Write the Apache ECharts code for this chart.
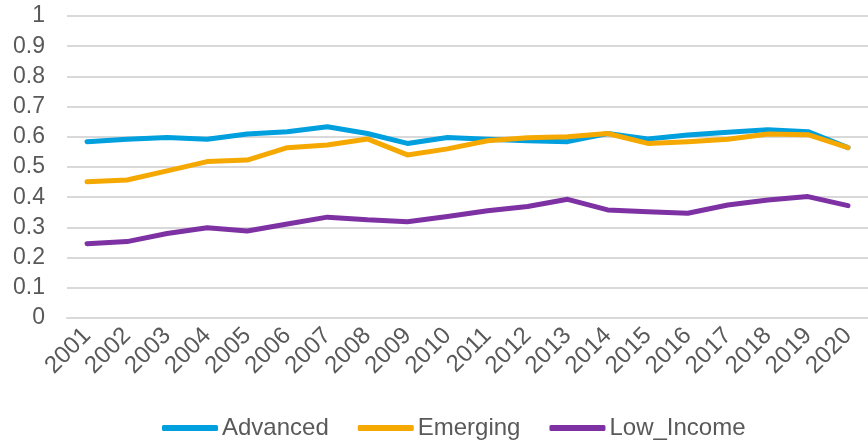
<!DOCTYPE html>
<html>
<head>
<meta charset="utf-8">
<script src="https://cdn.jsdelivr.net/npm/echarts@6/dist/echarts.min.js"></script>
<style>
html,body{margin:0;padding:0;background:#fff;}
#chart{width:868px;height:443px;}
</style>
</head>
<body>
<div id="chart"></div>
<script>
const years = ['2001','2002','2003','2004','2005','2006','2007','2008','2009','2010','2011','2012','2013','2014','2015','2016','2017','2018','2019','2020'];
const advanced = [0.584,0.592,0.598,0.592,0.609,0.617,0.633,0.611,0.578,0.598,0.592,0.587,0.584,0.611,0.593,0.606,0.615,0.623,0.617,0.564];
const emerging = [0.451,0.457,0.487,0.518,0.523,0.564,0.573,0.593,0.540,0.560,0.587,0.597,0.600,0.611,0.578,0.584,0.592,0.609,0.607,0.564];
const lowIncome = [0.246,0.253,0.280,0.299,0.288,0.311,0.334,0.325,0.319,0.336,0.355,0.369,0.393,0.358,0.352,0.347,0.374,0.391,0.402,0.372];
const yTicks = ['0','0.1','0.2','0.3','0.4','0.5','0.6','0.7','0.8','0.9','1'];

const FONT = '"Liberation Sans", Arial, sans-serif';
const colors = ['#009FDE', '#F5A900', '#7E31A3'];
const chart = echarts.init(document.getElementById('chart'), null, {renderer:'canvas'});
function mk(name, data, color){
  return {name, type:'line', data, symbol:'none', smooth:false,
    lineStyle:{width:5, color, cap:'round', join:'round'}, itemStyle:{color}};
}
chart.setOption({
  animation:false,
  backgroundColor:'#fff',
  textStyle:{fontFamily:FONT},
  grid:{left:67, top:16, height:302, width:812, containLabel:false},
  xAxis:{type:'category', data:years, boundaryGap:true,
    axisLine:{show:true, lineStyle:{color:'#D9D9D9', width:2}},
    axisTick:{show:false},
    axisLabel:{rotate:45, margin:14, fontSize:24, color:'#595959', fontFamily:FONT, interval:0}},
  yAxis:{type:'value', min:0, max:1, interval:0.1,
    axisLine:{show:false}, axisTick:{show:false},
    splitLine:{lineStyle:{color:'#D9D9D9', width:2}},
    axisLabel:{fontSize:23, color:'#595959', fontFamily:FONT, margin:22,
      formatter:v=>yTicks[Math.round(v*10)]}},
  legend:{left:162, top:416, padding:0, itemWidth:56, itemHeight:6, itemGap:29, icon:'roundRect',
    textStyle:{fontSize:24, color:'#595959', fontFamily:FONT, padding:[0,0,0,-1]},
    data:['Advanced','Emerging','Low_Income']},
  series:[mk('Advanced', advanced, colors[0]), mk('Emerging', emerging, colors[1]), mk('Low_Income', lowIncome, colors[2])]
});
</script>
</body>
</html>
